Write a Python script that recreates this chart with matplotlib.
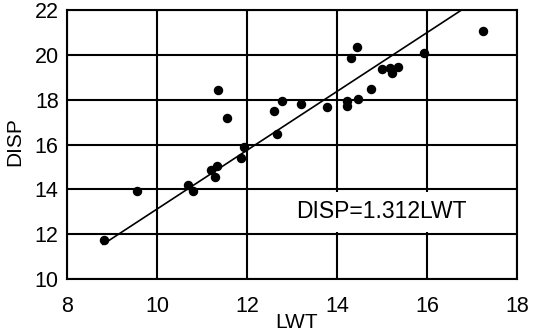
import matplotlib
matplotlib.use("Agg")
import matplotlib.pyplot as plt

plt.rcParams['font.family'] = ['Liberation Sans', 'DejaVu Sans']

lwt = [8.83, 9.55, 10.70, 10.80, 11.19, 11.28, 11.33, 11.36, 11.56, 11.87,
       11.93, 12.59, 12.67, 12.78, 13.20, 13.78, 14.22, 14.22, 14.31, 14.45,
       14.47, 14.76, 14.99, 15.18, 15.22, 15.36, 15.93, 17.24]
disp = [11.73, 13.94, 14.20, 13.91, 14.86, 14.57, 15.03, 18.45, 17.17, 15.40,
        15.90, 17.51, 16.48, 17.93, 17.82, 17.68, 17.94, 17.72, 19.87, 20.36,
        18.01, 18.47, 19.38, 19.41, 19.20, 19.47, 20.10, 21.05]

slope = 1.312
line_x = [8.8, 22 / slope]
line_y = [slope * v for v in line_x]

xticks = [8, 10, 12, 14, 16, 18]
yticks = [10, 12, 14, 16, 18, 20, 22]

fig = plt.figure(figsize=(5.34, 3.34), dpi=100)
ax = fig.add_axes([67 / 534, 1 - 279 / 334, 450 / 534, 269 / 334])

ax.plot(lwt, disp, 'o', color='black', markersize=5.8, zorder=3)
ax.plot(line_x, line_y, color='black', linewidth=1.2, zorder=3)

ax.set_xlim(8, 18)
ax.set_ylim(10, 22)
ax.set_xticks(xticks)
ax.set_yticks(yticks)
ax.grid(True, color='black', linewidth=1.5)
ax.set_axisbelow(True)
for s in ax.spines.values():
    s.set_linewidth(1.5)
ax.tick_params(length=0, labelsize=15.5)
ax.tick_params(axis='x', pad=12)
ax.tick_params(axis='y', pad=6)

ax.text(13.1, 13.0, 'DISP=1.312LWT', fontsize=16.5, va='center', ha='left',
        zorder=2, bbox=dict(facecolor='white', edgecolor='none', pad=6))

ax.set_xlabel('LWT', fontsize=15)
ax.set_ylabel('DISP', fontsize=15)
ax.xaxis.set_label_coords(0.51, -0.125)
ax.yaxis.set_label_coords(-0.095, 0.51)

fig.savefig('out.png', dpi=100)
